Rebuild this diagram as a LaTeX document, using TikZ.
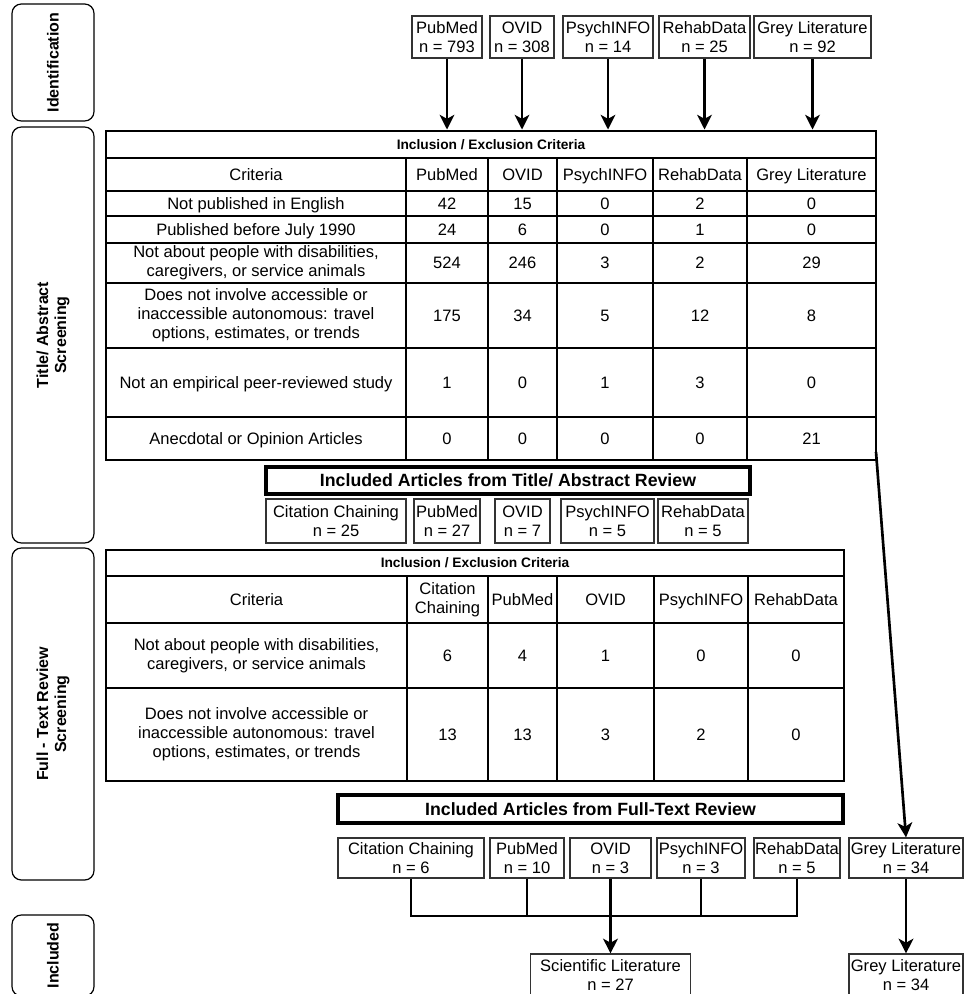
\documentclass[tikz,border=0pt]{standalone}
\usepackage{fontspec}
\setmainfont{Liberation Sans}
\usetikzlibrary{arrows.meta}

\begin{document}
\begin{tikzpicture}[x=0.75pt,y=0.75pt,yscale=-1,xscale=1,
  font=\fontsize{12.4}{14.3}\selectfont,
  boxwh/.style 2 args={minimum width=#1*0.75pt,minimum height=#2*0.75pt},
  phase/.style={draw,line width=0.9pt,rounded corners=7pt,rotate=90,align=center,inner sep=0pt,font=\fontsize{12}{13.5}\selectfont\bfseries},
  src/.style={draw=black!80,line width=0.9pt,align=center,inner sep=0pt},
  grid/.style={line width=2.2pt},
  cell/.style={inner sep=0pt,text height=8.9pt,text depth=0pt},
  mcell/.style={align=center,inner sep=0pt},
  tabtitle/.style={draw,line width=2.2pt,inner sep=0pt,text height=7.4pt,text depth=0pt,font=\fontsize{10.3}{12}\selectfont\bfseries},
  banner/.style={draw,line width=3pt,inner sep=0pt,text height=9.6pt,text depth=0pt,font=\fontsize{13.3}{16}\selectfont\bfseries},
  arr/.style={line width=2pt,-{Stealth[length=11pt,width=11pt,inset=3pt]}},
  conn/.style={line width=2pt}]
\useasboundingbox (0,0) rectangle (965,994);

% Phase Nodes
\node[phase,boxwh={117}{82}] (phid) at (53,62.5) {Identification};
\node[phase,boxwh={416}{82}] (phta) at (53,335) {Title/ Abstract\\Screening};
\node[phase,boxwh={332}{82}] (phft) at (53,714) {Full - Text Review\\Screening};
\node[phase,boxwh={81}{82}] (phinc) at (53,955.5) {Included};

% Source Nodes
\node[src,boxwh={70}{42}] (idpub) at (447,37) {PubMed\\n = 793};
\node[src,boxwh={64}{42}] (idovid) at (522,37) {OVID\\n = 308};
\node[src,boxwh={90}{42}] (idpsy) at (608,37) {PsychINFO\\n = 14};
\node[src,boxwh={91}{42}] (idrehab) at (704.5,37) {RehabData\\n = 25};
\node[src,boxwh={117}{42}] (idgrey) at (812.5,37) {Grey Literature\\n = 92};

%Table: title / abstract screening
\node[tabtitle,boxwh={770}{27}] (t1title) at (491,144.5) {Inclusion / Exclusion Criteria};
\draw[grid] (106,158) rectangle (876,460);
\draw[grid] (106,191) -- (876,191);
\draw[grid] (106,216) -- (876,216);
\draw[grid] (106,243) -- (876,243);
\draw[grid] (106,283) -- (876,283);
\draw[grid] (106,348) -- (876,348);
\draw[grid] (106,417) -- (876,417);
\draw[grid] (406,158) -- (406,460);
\draw[grid] (488,158) -- (488,460);
\draw[grid] (557,158) -- (557,460);
\draw[grid] (653,158) -- (653,460);
\draw[grid] (747,158) -- (747,460);

% Text Node
\node[cell] (t1h0) at (256,174.5) {Criteria};
\node[cell] (t1h1) at (447,174.5) {PubMed};
\node[cell] (t1h2) at (522.5,174.5) {OVID};
\node[cell] (t1h3) at (605,174.5) {PsychINFO};
\node[cell] (t1h4) at (700,174.5) {RehabData};
\node[cell] (t1h5) at (811.5,174.5) {Grey Literature};
% Text Node
\node[cell] (t1a0) at (256,203.5) {Not published in English};
\node[cell] (t1a1) at (447,203.5) {42};
\node[cell] (t1a2) at (522.5,203.5) {15};
\node[cell] (t1a3) at (605,203.5) {0};
\node[cell] (t1a4) at (700,203.5) {2};
\node[cell] (t1a5) at (811.5,203.5) {0};
% Text Node
\node[cell] (t1b0) at (256,229.5) {Published before July 1990};
\node[cell] (t1b1) at (447,229.5) {24};
\node[cell] (t1b2) at (522.5,229.5) {6};
\node[cell] (t1b3) at (605,229.5) {0};
\node[cell] (t1b4) at (700,229.5) {1};
\node[cell] (t1b5) at (811.5,229.5) {0};
% Text Node
\node[mcell] (t1c0) at (256,263) {Not about people with disabilities,\\caregivers, or service animals};
\node[cell] (t1c1) at (447,263) {524};
\node[cell] (t1c2) at (522.5,263) {246};
\node[cell] (t1c3) at (605,263) {3};
\node[cell] (t1c4) at (700,263) {2};
\node[cell] (t1c5) at (811.5,263) {29};
% Text Node
\node[mcell] (t1d0) at (256,315.5) {Does not involve accessible or\\inaccessible autonomous: travel\\options, estimates, or trends};
\node[cell] (t1d1) at (447,315.5) {175};
\node[cell] (t1d2) at (522.5,315.5) {34};
\node[cell] (t1d3) at (605,315.5) {5};
\node[cell] (t1d4) at (700,315.5) {12};
\node[cell] (t1d5) at (811.5,315.5) {8};
% Text Node
\node[cell] (t1e0) at (256,382.5) {Not an empirical peer-reviewed study};
\node[cell] (t1e1) at (447,382.5) {1};
\node[cell] (t1e2) at (522.5,382.5) {0};
\node[cell] (t1e3) at (605,382.5) {1};
\node[cell] (t1e4) at (700,382.5) {3};
\node[cell] (t1e5) at (811.5,382.5) {0};
% Text Node
\node[cell] (t1f0) at (256,438.5) {Anecdotal or Opinion Articles};
\node[cell] (t1f1) at (447,438.5) {0};
\node[cell] (t1f2) at (522.5,438.5) {0};
\node[cell] (t1f3) at (605,438.5) {0};
\node[cell] (t1f4) at (700,438.5) {0};
\node[cell] (t1f5) at (811.5,438.5) {21};
\coordinate (t1exit) at (876,452);

%Straight Lines
\draw[arr] (idpub) -- (idpub |- t1title.north);
\draw[arr] (idovid) -- (idovid |- t1title.north);
\draw[arr] (idpsy) -- (idpsy |- t1title.north);
\draw[arr] (idrehab) -- (idrehab |- t1title.north);
\draw[arr] (idgrey) -- (idgrey |- t1title.north);

% Included after title / abstract review
\node[banner,boxwh={484}{27}] (tarev) at (508,480.5) {Included Articles from Title/ Abstract Review};
\node[src,boxwh={140}{44}] (tacc) at (336,521) {Citation Chaining\\n = 25};
\node[src,boxwh={66}{44}] (tapub) at (447,521) {PubMed\\n = 27};
\node[src,boxwh={55}{44}] (taovid) at (522.5,521) {OVID\\n = 7};
\node[src,boxwh={93}{44}] (tapsy) at (607.5,521) {PsychINFO\\n = 5};
\node[src,boxwh={90}{44}] (tarehab) at (703,521) {RehabData\\n = 5};

%Table: full-text review screening
\node[tabtitle,boxwh={738}{26}] (t2title) at (475,563) {Inclusion / Exclusion Criteria};
\draw[grid] (106,576) rectangle (844,781);
\draw[grid] (106,623) -- (844,623);
\draw[grid] (106,688) -- (844,688);
\draw[grid] (407,576) -- (407,781);
\draw[grid] (488,576) -- (488,781);
\draw[grid] (557,576) -- (557,781);
\draw[grid] (654,576) -- (654,781);
\draw[grid] (748,576) -- (748,781);

% Text Node
\node[cell] (t2h0) at (256.5,599.5) {Criteria};
\node[mcell] (t2h1) at (447.5,599.5) {Citation\\Chaining};
\node[cell] (t2h2) at (522.5,599.5) {PubMed};
\node[cell] (t2h3) at (605.5,599.5) {OVID};
\node[cell] (t2h4) at (701,599.5) {PsychINFO};
\node[cell] (t2h5) at (796,599.5) {RehabData};
% Text Node
\node[mcell] (t2a0) at (256.5,655.5) {Not about people with disabilities,\\caregivers, or service animals};
\node[cell] (t2a1) at (447.5,655.5) {6};
\node[cell] (t2a2) at (522.5,655.5) {4};
\node[cell] (t2a3) at (605.5,655.5) {1};
\node[cell] (t2a4) at (701,655.5) {0};
\node[cell] (t2a5) at (796,655.5) {0};
% Text Node
\node[mcell] (t2b0) at (256.5,734.5) {Does not involve accessible or\\inaccessible autonomous: travel\\options, estimates, or trends};
\node[cell] (t2b1) at (447.5,734.5) {13};
\node[cell] (t2b2) at (522.5,734.5) {13};
\node[cell] (t2b3) at (605.5,734.5) {3};
\node[cell] (t2b4) at (701,734.5) {2};
\node[cell] (t2b5) at (796,734.5) {0};

% Included after full-text review
\node[banner,boxwh={505}{28}] (ftrev) at (590.5,809) {Included Articles from Full-Text Review};
\node[src,boxwh={146}{40}] (ftcc) at (411,858) {Citation Chaining\\n = 6};
\node[src,boxwh={74}{40}] (ftpub) at (527,858) {PubMed\\n = 10};
\node[src,boxwh={81}{40}] (ftovid) at (610.5,858) {OVID\\n = 3};
\node[src,boxwh={88}{40}] (ftpsy) at (701,858) {PsychINFO\\n = 3};
\node[src,boxwh={86}{40}] (ftrehab) at (797,858) {RehabData\\n = 5};
\node[src,boxwh={114}{40}] (ftgrey) at (906,858) {Grey Literature\\n = 34};

% Final counts
\node[src,boxwh={160}{42}] (sci) at (610.5,975) {Scientific Literature\\n = 27};
\node[src,boxwh={114}{42}] (grey) at (906,975) {Grey Literature\\n = 34};

%Straight Lines
\coordinate (bus) at (610.5,916);
\draw[conn] (ftcc.south) |- (bus) -| (ftrehab.south);
\draw[conn] (ftpub.south) -- (ftpub.south |- bus);
\draw[conn] (ftpsy.south) -- (ftpsy.south |- bus);
\draw[arr] (ftovid.south) -- (sci.north);
\draw[arr] (ftgrey.south) -- (grey.north);
\draw[arr] (t1exit) -- (ftgrey.north);

\end{tikzpicture}
\end{document}
